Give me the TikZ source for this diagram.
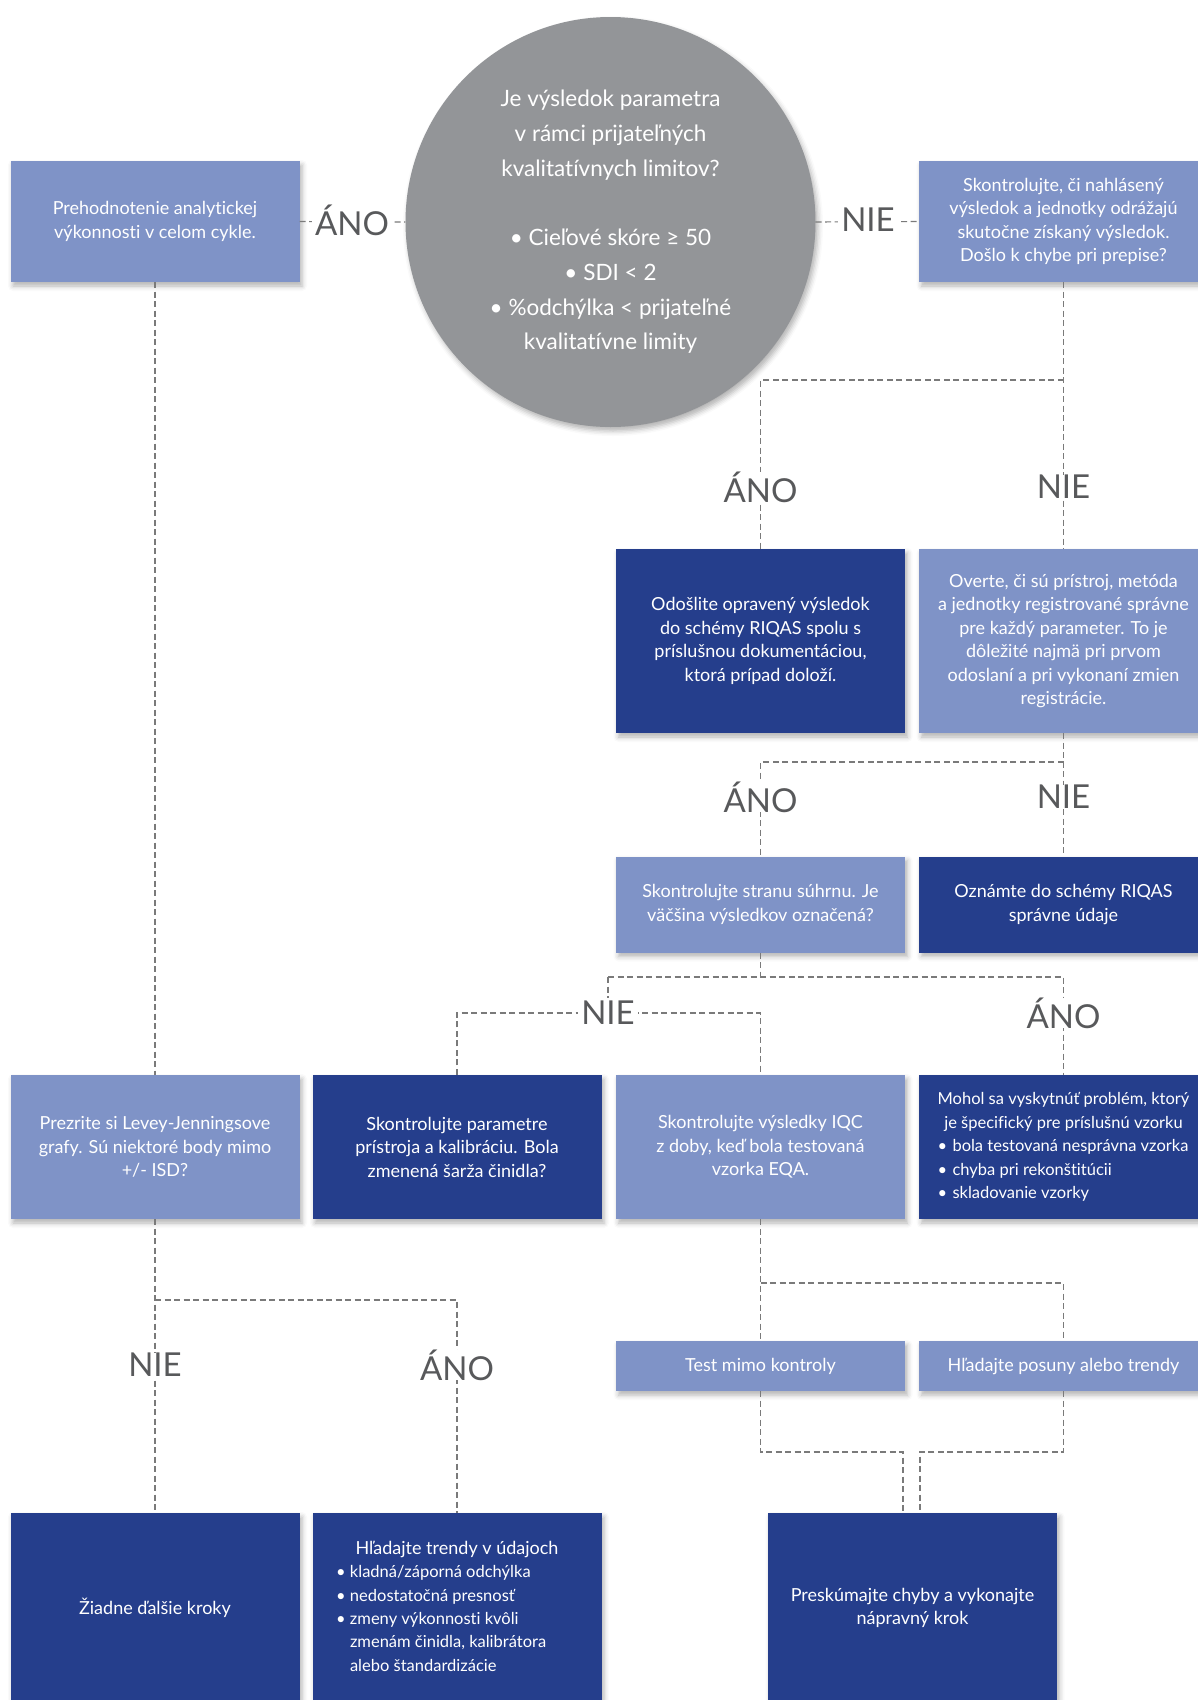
\documentclass[tikz,border=0pt]{standalone}
\usepackage{fontspec}
\setmainfont{Lato}[Ligatures=NoCommon]
\usetikzlibrary{shadows.blur}
\definecolor{lightb}{HTML}{7F93C7}
\definecolor{darkb}{HTML}{253E8C}
\definecolor{circg}{HTML}{939598}
\definecolor{lineg}{HTML}{7A7A7A}
\definecolor{labg}{HTML}{58595B}
\newcommand\boxfont{\fontsize{18}{23.5}\selectfont}
\newcommand\circfont{\fontsize{22.5}{34.7}\selectfont}
\newcommand\labfont{\fontsize{33}{33}\selectfont}
\newcommand\narrowfont{\fontsize{16.5}{23.4}\selectfont}
\begin{document}
\begin{tikzpicture}[x=1pt,y=-1pt,
  shd/.style={blur shadow={shadow xshift=2.5pt,shadow yshift=-4pt,shadow blur radius=5pt,shadow opacity=30}},
  bx/.style={rectangle,minimum width=289pt,inner sep=0pt,text=white,align=center,font=\boxfont,shd},
  lb/.style={bx,fill=lightb},
  db/.style={bx,fill=darkb},
  conn/.style={draw=lineg,line width=1.1pt,dash pattern=on 6pt off 3.5pt},
  lab/.style={font=\labfont,text=labg,inner sep=0pt,fill=white},
  labw/.style={lab,inner sep=3pt}]
\useasboundingbox (0,0) rectangle (1198,1700);

% question circle
\node[circle,fill=circg,minimum size=410pt,inner sep=0pt,text=white,align=center,font=\circfont,shd] (q) at (610.5,222)
 {Je výsledok parametra\\v rámci prijateľných\\kvalitatívnych limitov?\\[34.7pt]• Cieľové skóre ≥ 50\\• SDI < 2\\• \%odchýlka < prijateľné\\kvalitatívne limity};

% boxes
\node[lb,minimum height=121pt] (b1) at (155,221.5) {Prehodnotenie analytickej\\výkonnosti v celom cykle.};
\node[lb,minimum height=121pt] (b2) at (1063.5,221.5) {Skontrolujte, či nahlásený\\výsledok a jednotky odrážajú\\skutočne získaný výsledok.\\Došlo k chybe pri prepise?};
\node[db,minimum height=184pt] (b3) at (760.5,641) {Odošlite opravený výsledok\\do schémy RIQAS spolu s\\príslušnou dokumentáciou,\\ktorá prípad doloží.};
\node[lb,minimum height=184pt] (b4) at (1063.5,641) {Overte, či sú prístroj, metóda\\a jednotky registrované správne\\pre každý parameter. To je\\dôležité najmä pri prvom\\odoslaní a pri vykonaní zmien\\registrácie.};
\node[lb,minimum height=96pt] (b5) at (760.5,904.5) {Skontrolujte stranu súhrnu. Je\\väčšina výsledkov označená?};
\node[db,minimum height=96pt] (b6) at (1063.5,904.5) {Oznámte do schémy RIQAS\\správne údaje};
\node[lb,minimum height=144pt] (b7) at (155,1147) {Prezrite si Levey-Jenningsove\\grafy. Sú niektoré body mimo\\+/- ISD?};
\node[db,minimum height=144pt] (b8) at (457,1147) {Skontrolujte parametre\\prístroja a kalibráciu. Bola\\zmenená šarža činidla?};
\node[lb,minimum height=144pt] (b9) at (760.5,1147) {Skontrolujte výsledky IQC\\z doby, keď bola testovaná\\vzorka EQA.};
\node[db,minimum height=144pt] (b10) at (1063.5,1147) {\narrowfont\begin{tabular}{@{}p{10pt}@{\hspace{5pt}}p{237pt}@{}}
 \multicolumn{2}{@{}c@{}}{Mohol sa vyskytnúť problém, ktorý}\\
 \multicolumn{2}{@{}c@{}}{je špecifický pre príslušnú vzorku}\\
 •&bola testovaná nesprávna vzorka\\
 •&chyba pri rekonštitúcii\\
 •&skladovanie vzorky\end{tabular}};
\node[lb,minimum height=50pt] (b11) at (760.5,1366) {Test mimo kontroly};
\node[lb,minimum height=50pt] (b12) at (1063.5,1366) {Hľadajte posuny alebo trendy};
\node[db,minimum height=190pt] (b13) at (155,1608) {Žiadne ďalšie kroky};
\node[db,minimum height=190pt] (b14) at (457,1608) {\narrowfont\begin{tabular}{@{}p{10pt}@{\hspace{4pt}}p{228pt}@{}}
 \multicolumn{2}{@{}c@{}}{\boxfont Hľadajte trendy v údajoch}\\
 •&kladná/záporná odchýlka\\
 •&nedostatočná presnosť\\
 •&zmeny výkonnosti kvôli\newline zmenám činidla, kalibrátora\newline alebo štandardizácie\end{tabular}};
\node[db,minimum height=190pt] (b15) at (912.5,1608) {Preskúmajte chyby a vykonajte\\nápravný krok};

% junction coordinates
\coordinate (j1r) at (1063.5,380);
\coordinate (j1l) at (760.5,380);
\coordinate (j2r) at (1063.5,762);
\coordinate (j2l) at (760.5,762);
\coordinate (j3) at (760.5,977);
\coordinate (j3l) at (608,977);
\coordinate (j3r) at (1063.5,977);
\coordinate (j4l) at (457,1013);
\coordinate (j4m) at (608,1013);
\coordinate (j4r) at (760.5,1013);
\coordinate (j5l) at (155,1300);
\coordinate (j5r) at (457,1300);
\coordinate (j6l) at (760.5,1283);
\coordinate (j6r) at (1063.5,1283);
\coordinate (k1) at (760.5,1452);
\coordinate (k2) at (903,1452);
\coordinate (k3) at (1063.5,1452);
\coordinate (k4) at (920,1452);

% connectors
\draw[conn] (b1.east) -- (q.west);
\draw[conn] (q.east) -- (b2.west);
\draw[conn] (b2.south) -- (b4.north);
\draw[conn] (j1r) -- (j1l) -- (b3.north);
\draw[conn] (b4.south) -- (b6.north);
\draw[conn] (j2r) -- (j2l) -- (b5.north);
\draw[conn] (b5.south) -- (j3);
\draw[conn] (j3l) -- (j3r) -- (b10.north);
\draw[conn] (j3l) -- (j4m);
\draw[conn] (b8.north) -- (j4l) -- (j4r) -- (b9.north);
\draw[conn] (b1.south) -- (b7.north);
\draw[conn] (b7.south) -- (b13.north);
\draw[conn] (j5l) -- (j5r) -- (b14.north);
\draw[conn] (b9.south) -- (b11.north);
\draw[conn] (j6l) -- (j6r) -- (b12.north);
\draw[conn] (b11.south) -- (k1) -- (k2) -- (k2 |- b15.north);
\draw[conn] (b12.south) -- (k3) -- (k4) -- (k4 |- b15.north);

% labels
\node[labw] (la1) at (352,220) {ÁNO};
\node[labw] (ln1) at (868,220) {NIE};
\node[lab] (la2) at (760.5,487) {ÁNO};
\node[lab] (ln2) at (1063.5,487) {NIE};
\node[lab] (la3) at (760.5,797) {ÁNO};
\node[lab] (ln3) at (1063.5,797) {NIE};
\node[labw] (ln4) at (608,1013) {NIE};
\node[lab] (la4) at (1063.5,1013) {ÁNO};
\node[lab] (ln5) at (155,1365) {NIE};
\node[lab] (la5) at (457,1365) {ÁNO};
\end{tikzpicture}
\end{document}
